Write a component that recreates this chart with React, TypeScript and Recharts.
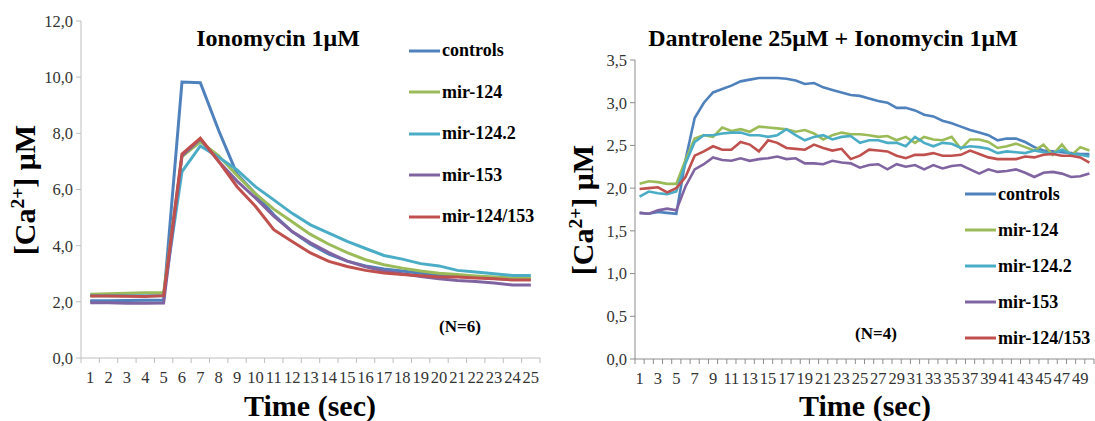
import React from "react";
import { LineChart, Line, XAxis, YAxis, Legend } from "recharts";

// --- Ionomycin 1µM (left panel), N=6 ---
const timeA = [1, 2, 3, 4, 5, 6, 7, 8, 9, 10, 11, 12, 13, 14, 15, 16, 17, 18, 19, 20, 21, 22, 23, 24, 25];
const controlsA = [2.04, 2.04, 2.05, 2.06, 2.06, 9.83, 9.8, 8.1, 6.55, 5.85, 5.1, 4.5, 4.05, 3.7, 3.45, 3.28, 3.17, 3.1, 3.02, 2.96, 2.92, 2.88, 2.83, 2.8, 2.8];
const mir124A = [2.27, 2.29, 2.31, 2.32, 2.32, 7.17, 7.7, 7.2, 6.5, 5.85, 5.3, 4.85, 4.4, 4.05, 3.75, 3.5, 3.32, 3.2, 3.1, 3.02, 2.97, 2.92, 2.88, 2.85, 2.85];
const mir1242A = [2.22, 2.22, 2.22, 2.22, 2.22, 6.64, 7.55, 7.15, 6.7, 6.1, 5.63, 5.15, 4.74, 4.45, 4.15, 3.9, 3.65, 3.52, 3.36, 3.28, 3.12, 3.06, 3.0, 2.94, 2.94];
const mir153A = [1.97, 1.97, 1.95, 1.95, 1.96, 7.2, 7.8, 7.0, 6.3, 5.7, 5.05, 4.5, 4.1, 3.75, 3.45, 3.25, 3.1, 3.0, 2.9, 2.82, 2.76, 2.72, 2.67, 2.6, 2.6];
const mir124153A = [2.21, 2.21, 2.2, 2.19, 2.22, 7.26, 7.83, 7.0, 6.1, 5.4, 4.57, 4.15, 3.74, 3.44, 3.26, 3.12, 3.03, 2.97, 2.93, 2.88, 2.88, 2.85, 2.82, 2.78, 2.78];
const yTicksA = [0, 2, 4, 6, 8, 10, 12];

// --- Dantrolene 25µM + Ionomycin 1µM (right panel), N=4 ---
const timeB = [
  1, 2, 3, 4, 5, 6, 7, 8, 9, 10, 11, 12, 13, 14, 15, 16, 17, 18, 19, 20, 21, 22, 23, 24, 25,
  26, 27, 28, 29, 30, 31, 32, 33, 34, 35, 36, 37, 38, 39, 40, 41, 42, 43, 44, 45, 46, 47, 48, 49, 50,
];
const controlsB = [
  1.71, 1.7, 1.72, 1.71, 1.7, 2.33, 2.82, 3.0, 3.12, 3.16,
  3.2, 3.25, 3.27, 3.29, 3.29, 3.29, 3.28, 3.26, 3.22, 3.23,
  3.18, 3.15, 3.12, 3.09, 3.08, 3.05, 3.02, 3.0, 2.94, 2.94,
  2.91, 2.86, 2.84, 2.79, 2.76, 2.72, 2.68, 2.65, 2.62, 2.56,
  2.58, 2.58, 2.54, 2.48, 2.44, 2.43, 2.42, 2.41, 2.4, 2.4,
];
const mir124B = [
  2.05, 2.08, 2.07, 2.05, 2.05, 2.33, 2.58, 2.62, 2.6, 2.71,
  2.67, 2.69, 2.66, 2.72, 2.71, 2.7, 2.69, 2.66, 2.68, 2.64,
  2.57, 2.62, 2.65, 2.63, 2.63, 2.62, 2.6, 2.61, 2.56, 2.6,
  2.53, 2.6, 2.57, 2.56, 2.6, 2.46, 2.57, 2.57, 2.54, 2.47,
  2.49, 2.52, 2.48, 2.44, 2.51, 2.39, 2.51, 2.38, 2.48, 2.44,
];
const mir1242B = [
  1.9, 1.96, 1.94, 1.93, 1.96, 2.29, 2.54, 2.62, 2.62, 2.64,
  2.65, 2.65, 2.62, 2.62, 2.6, 2.62, 2.69, 2.62, 2.56, 2.6,
  2.62, 2.57, 2.6, 2.61, 2.53, 2.56, 2.56, 2.53, 2.53, 2.49,
  2.6, 2.53, 2.49, 2.53, 2.52, 2.47, 2.49, 2.48, 2.46, 2.41,
  2.43, 2.42, 2.41, 2.44, 2.42, 2.4, 2.45, 2.4, 2.39, 2.37,
];
const mir153B = [
  1.71, 1.7, 1.74, 1.76, 1.74, 2.02, 2.22, 2.28, 2.36, 2.33,
  2.32, 2.35, 2.32, 2.34, 2.35, 2.37, 2.34, 2.35, 2.29, 2.29,
  2.28, 2.32, 2.3, 2.29, 2.24, 2.27, 2.28, 2.22, 2.28, 2.25,
  2.27, 2.22, 2.27, 2.23, 2.26, 2.27, 2.22, 2.17, 2.22, 2.19,
  2.2, 2.22, 2.18, 2.13, 2.18, 2.19, 2.17, 2.13, 2.14, 2.17,
];
const mir124153B = [
  1.99, 2.0, 2.01, 1.95, 2.0, 2.13, 2.38, 2.43, 2.49, 2.45,
  2.45, 2.54, 2.51, 2.43, 2.56, 2.53, 2.47, 2.46, 2.45, 2.51,
  2.47, 2.44, 2.46, 2.34, 2.38, 2.45, 2.44, 2.43, 2.38, 2.35,
  2.39, 2.39, 2.41, 2.38, 2.38, 2.39, 2.44, 2.4, 2.36, 2.34,
  2.34, 2.34, 2.37, 2.36, 2.39, 2.4, 2.38, 2.38, 2.36, 2.3,
];
const xLabelsB = [1, 3, 5, 7, 9, 11, 13, 15, 17, 19, 21, 23, 25, 27, 29, 31, 33, 35, 37, 39, 41, 43, 45, 47, 49];
const yTicksB = [0, 0.5, 1, 1.5, 2, 2.5, 3, 3.5];

const SERIES = [
  { key: "controls", color: "#4F81BD" },
  { key: "mir-124", color: "#9BBB59" },
  { key: "mir-124.2", color: "#4BACC6" },
  { key: "mir-153", color: "#8064A2" },
  { key: "mir-124/153", color: "#C0504D" },
];
const seriesIndex = (name: string) => SERIES.findIndex((s) => s.key === name);

const FONT = "'Liberation Serif', 'Times New Roman', serif";
const TICK_SIZE = 16.5;

const rowsOf = (time: number[], cols: number[][]) =>
  time.map((t, i) => {
    const row: any = { t };
    SERIES.forEach((s, j) => (row[s.key] = cols[j][i]));
    return row;
  });

const dataA = rowsOf(timeA, [controlsA, mir124A, mir1242A, mir153A, mir124153A]);
const dataB = rowsOf(timeB, [controlsB, mir124B, mir1242B, mir153B, mir124153B]);

// Excel-style category ticks: marks between categories, labels on them
const boundaries = (n: number) => Array.from({ length: n + 1 }, (_, i) => i + 0.5);

function XTick(props: any) {
  const { x, y, payload, labels, axisColor } = props;
  const v = payload.value;
  if (Number.isInteger(v)) {
    if (!labels.includes(v)) return <g />;
    return (
      <text x={x} y={y + 25} textAnchor="middle" fontSize={TICK_SIZE} fontFamily={FONT} fill="#333">
        {v}
      </text>
    );
  }
  return <line x1={x} x2={x} y1={y} y2={y + 5} stroke={axisColor} />;
}

const comma = (v: number) => v.toFixed(1).replace(".", ",");

function makeLegend(rowH: number) {
  return (props: any) => {
    const items = [...(props.payload || [])].sort(
      (a: any, b: any) => seriesIndex(a.value) - seriesIndex(b.value)
    );
    return (
      <div>
        {items.map((e: any) => (
          <div key={e.value} style={{ height: rowH, display: "flex", alignItems: "center" }}>
            <svg width={31} height={6} style={{ display: "block" }}>
              <line x1={0} y1={3} x2={31} y2={3} stroke={e.color} strokeWidth={3} />
            </svg>
            <span style={{ marginLeft: 2, font: `bold 18px ${FONT}`, color: "#000", whiteSpace: "nowrap" }}>
              {e.value}
            </span>
          </div>
        ))}
      </div>
    );
  };
}

function Txt({ x, y, size, rotate, children }: any) {
  return (
    <div
      style={{
        position: "absolute",
        left: x,
        top: y,
        transform: `translate(-50%, -50%)${rotate ? " rotate(-90deg)" : ""}`,
        font: `bold ${size}px ${FONT}`,
        lineHeight: 1,
        whiteSpace: "nowrap",
        color: "#000",
      }}
    >
      {children}
    </div>
  );
}

const CaLabel = () => (
  <span>
    [Ca<sup style={{ fontSize: "0.65em", lineHeight: 0 }}>2+</sup>] μM
  </span>
);

function Panel({ data, n, labels, yMax, yTicks, yWidth, top, bottom, right, axisColor, lw, legendLeft, legendTop, rowH }: any) {
  return (
    <LineChart width={550} height={421} data={data} margin={{ top, right, bottom: 0, left: 0 }}>
      <XAxis
        dataKey="t"
        type="number"
        domain={[0.5, n + 0.5]}
        ticks={[...boundaries(n), ...labels]}
        interval={0}
        height={bottom}
        axisLine={{ stroke: axisColor }}
        tickLine={false}
        tickSize={0}
        tickMargin={0}
        tick={(p: any) => <XTick {...p} labels={labels} axisColor={axisColor} />}
      />
      <YAxis
        type="number"
        domain={[0, yMax]}
        ticks={yTicks}
        interval={0}
        width={yWidth}
        axisLine={{ stroke: axisColor }}
        tickLine={{ stroke: axisColor }}
        tickSize={5}
        tickMargin={3}
        tickFormatter={comma}
        tick={{ fontSize: TICK_SIZE, fontFamily: FONT, fill: "#333" }}
      />
      {SERIES.map((s) => (
        <Line
          key={s.key}
          dataKey={s.key}
          name={s.key}
          stroke={s.color}
          strokeWidth={lw}
          dot={false}
          type="linear"
          isAnimationActive={false}
        />
      ))}
      <Legend
        layout="vertical"
        align="center"
        verticalAlign="middle"
        width={140}
        itemSorter={(item: any) => seriesIndex(item.value)}
        wrapperStyle={{ left: legendLeft, top: legendTop }}
        content={makeLegend(rowH)}
      />
    </LineChart>
  );
}

export default function App() {
  return (
    <div style={{ position: "absolute", left: 0, top: 0, width: 1095, height: 421, background: "#fff", overflow: "hidden" }}>
      <div style={{ position: "absolute", left: 0, top: 0 }}>
        <Panel
          data={dataA}
          n={25}
          labels={timeA}
          yMax={12}
          yTicks={yTicksA}
          yWidth={81}
          top={21}
          bottom={63}
          right={10}
          axisColor="#BEBEBE"
          lw={3}
          legendLeft={409}
          legendTop={30}
          rowH={41.5}
        />
      </div>
      <div style={{ position: "absolute", left: 545, top: 0 }}>
        <Panel
          data={dataB}
          n={50}
          labels={xLabelsB}
          yMax={3.5}
          yTicks={yTicksB}
          yWidth={90}
          top={60}
          bottom={62}
          right={1}
          axisColor="#8C8C8C"
          lw={2.6}
          legendLeft={420}
          legendTop={176}
          rowH={36}
        />
      </div>
      <Txt x={278} y={38} size={24}>Ionomycin 1μM</Txt>
      <Txt x={833} y={38} size={24}>Dantrolene 25μM + Ionomycin 1μM</Txt>
      <Txt x={25} y={190} size={30} rotate><CaLabel /></Txt>
      <Txt x={583} y={210} size={30} rotate><CaLabel /></Txt>
      <Txt x={310} y={406} size={30}>Time (sec)</Txt>
      <Txt x={865} y={406} size={30}>Time (sec)</Txt>
      <Txt x={460} y={326} size={17}>(N=6)</Txt>
      <Txt x={876} y={333} size={17}>(N=4)</Txt>
    </div>
  );
}
